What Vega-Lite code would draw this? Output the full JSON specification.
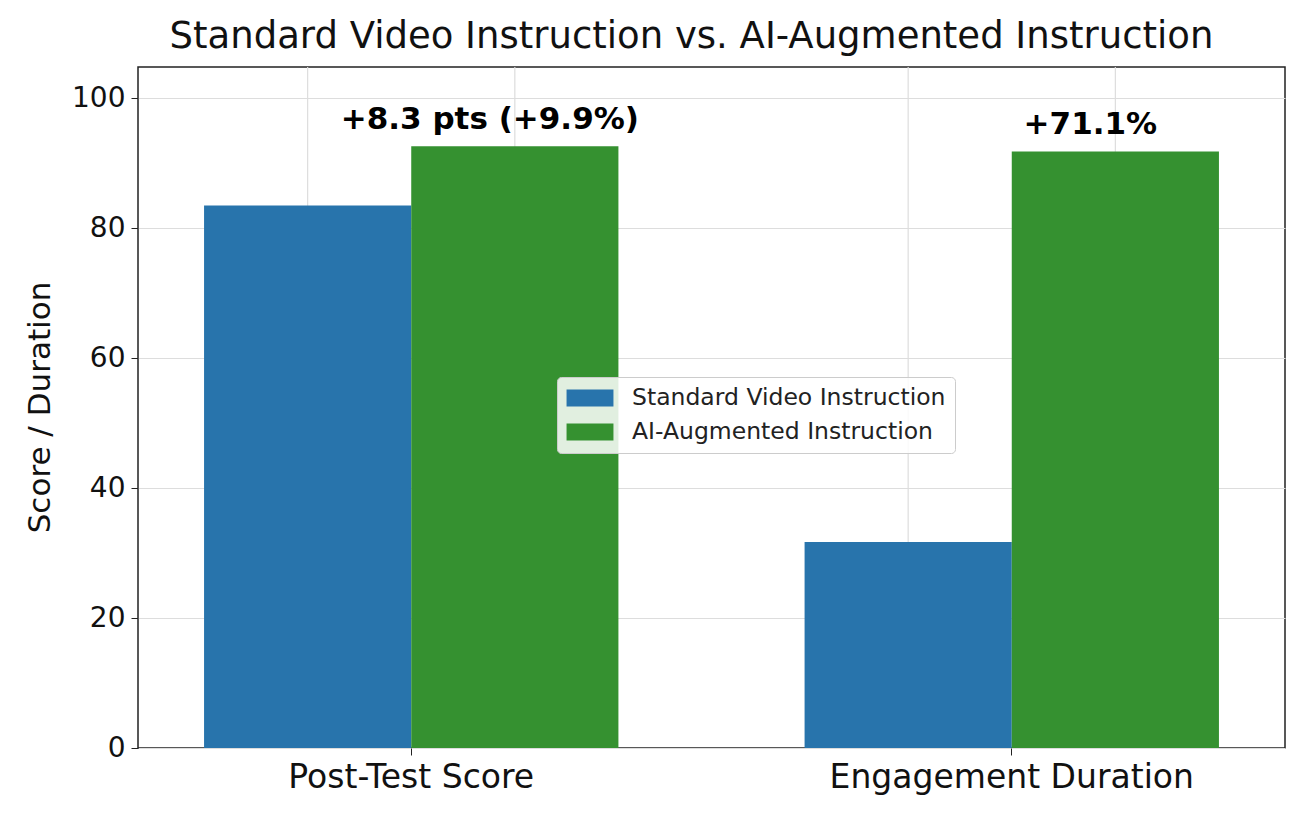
{
  "$schema": "https://vega.github.io/schema/vega-lite/v6.json",
  "autosize": "none",
  "width": 1147,
  "height": 681,
  "padding": {"left": 138, "top": 67, "right": 27, "bottom": 68},
  "background": "white",
  "config": {
    "font": "DejaVu Sans",
    "view": {"stroke": "#222222", "strokeWidth": 1.5},
    "axis": {"gridColor": "#dddddd", "gridWidth": 1.2, "domain": false, "tickColor": "#222222", "tickSize": 7, "labelColor": "#111111", "titleColor": "#111111"}
  },
  "title": {
    "text": "Standard Video Instruction vs. AI-Augmented Instruction",
    "fontSize": 37,
    "fontWeight": "normal",
    "color": "#111111",
    "anchor": "middle",
    "dx": -20,
    "offset": 10
  },
  "data": {
    "values": [
      {"metric": "Post-Test Score", "group": "Standard Video Instruction", "value": 83.5, "label": ""},
      {"metric": "Post-Test Score", "group": "AI-Augmented Instruction", "value": 92.6, "label": "+8.3 pts (+9.9%)"},
      {"metric": "Engagement Duration", "group": "Standard Video Instruction", "value": 31.7, "label": ""},
      {"metric": "Engagement Duration", "group": "AI-Augmented Instruction", "value": 91.8, "label": "+71.1%"}
    ]
  },
  "encoding": {
    "x": {
      "field": "metric",
      "type": "nominal",
      "sort": ["Post-Test Score", "Engagement Duration"],
      "scale": {"paddingInner": 0.31, "paddingOuter": 0.11},
      "axis": {"title": null, "labelAngle": 0, "labelFontSize": 33, "labelPadding": 6, "labelLimit": 600, "grid": false, "bandPosition": 0.5}
    },
    "xOffset": {
      "field": "group",
      "type": "nominal",
      "sort": ["Standard Video Instruction", "AI-Augmented Instruction"],
      "scale": {"paddingInner": 0, "paddingOuter": 0}
    }
  },
  "layer": [
    {
      "mark": {"type": "rule", "color": "#dddddd", "strokeWidth": 1.2},
      "encoding": {}
    },
    {
      "mark": {"type": "bar"},
      "encoding": {
        "y": {
          "field": "value",
          "type": "quantitative",
          "scale": {"domain": [0, 104.8], "nice": false},
          "axis": {"values": [0, 20, 40, 60, 80, 100], "labelFontSize": 28, "labelPadding": 6, "title": "Score / Duration", "titleFontSize": 31, "titleFontWeight": "normal", "titleX": -98, "titleY": 340, "titleAngle": -90, "titleAlign": "center", "titleBaseline": "middle"}
        },
        "color": {
          "field": "group",
          "type": "nominal",
          "sort": ["Standard Video Instruction", "AI-Augmented Instruction"],
          "scale": {"range": ["#2874ac", "#359130"]},
          "legend": {
            "title": null,
            "orient": "none",
            "legendX": 419,
            "legendY": 310,
            "labelFontSize": 23.5,
            "labelLimit": 500,
            "labelColor": "#222222",
            "symbolType": "M-2,-0.72H2V0.72H-2Z",
            "symbolSize": 550,
            "symbolOffset": 12,
            "symbolOpacity": 1,
            "symbolStrokeWidth": 0,
            "rowPadding": 10,
            "labelOffset": 30,
            "padding": 9,
            "fillColor": "rgba(255,255,255,0.85)",
            "strokeColor": "#cccccc",
            "cornerRadius": 4
          }
        }
      }
    },
    {
      "mark": {"type": "text", "fontSize": 31, "fontWeight": "bold", "color": "#000000", "baseline": "bottom", "dy": -10, "dx": -25},
      "encoding": {
        "y": {"field": "value", "type": "quantitative"},
        "text": {"field": "label"}
      }
    }
  ]
}
